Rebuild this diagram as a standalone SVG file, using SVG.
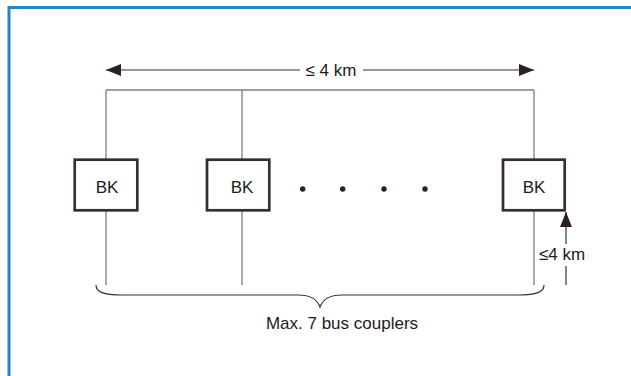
<svg xmlns="http://www.w3.org/2000/svg" width="631" height="376" viewBox="0 0 631 376">
  <style>
    .frame { fill: none; stroke: #1e87cf; stroke-width: 3; }
    .bus { fill: none; stroke: #857d7d; stroke-width: 1.3; }
    .dim { fill: none; stroke: #3a2f2f; stroke-width: 1.2; }
    .box { fill: #ffffff; stroke: #3a2d2d; stroke-width: 2.7; }
    .label { font-family: "Liberation Sans", Arial, sans-serif; font-size: 17px; fill: #231a1a; }
    .mid { text-anchor: middle; }
    .dot { fill: #2b1f1f; }
  </style>
  <defs>
    <marker id="head" viewBox="0 0 15 12" refX="15" refY="6" markerWidth="15" markerHeight="12" markerUnits="userSpaceOnUse" orient="auto">
      <path d="M0,0 L15,6 L0,12 Z" fill="#2b1f1f"/>
    </marker>
  </defs>

  <!-- page frame -->
  <path class="frame" d="M9,376 V7.5 H631"/>

  <!-- connectors: bus line, drops, dimensions, brace -->
  <g id="connectors">
    <path class="bus" d="M106,90 H534"/>
    <path class="bus" d="M106,90 V160 M242,90 V160 M534,90 V160"/>
    <path class="bus" d="M106,210 V285 M242,210 V285 M534,210 V285"/>

    <!-- overall length dimension -->
    <path class="dim" d="M300,70 H106" marker-end="url(#head)"/>
    <path class="dim" d="M363,70 H534" marker-end="url(#head)"/>

    <!-- stub length dimension -->
    <path class="dim" d="M566,244 V212" marker-end="url(#head)"/>
    <path class="dim" d="M566,266 V285"/>

    <!-- brace -->
    <path class="dim" d="M96,285 C96,292 103,295 122,295 L298,295 C311,295 317,299 320,307 C323,299 329,295 342,295 L518,295 C537,295 544,292 544,285"/>
  </g>

  <text class="label mid" x="331" y="76">≤ 4 km</text>
  <text class="label mid" x="562" y="260">≤4 km</text>
  <text class="label mid" x="342" y="329">Max. 7 bus couplers</text>

  <g id="bk1">
    <rect class="box" x="74.7" y="159.7" width="62.6" height="50.6"/>
    <text class="label mid" x="107" y="193">BK</text>
  </g>
  <g id="bk2">
    <rect class="box" x="207" y="159.7" width="62.3" height="50.6"/>
    <text class="label mid" x="242" y="193">BK</text>
  </g>
  <g id="bk3">
    <rect class="box" x="503" y="159.7" width="61.7" height="50.6"/>
    <text class="label mid" x="534" y="193">BK</text>
  </g>

  <g id="ellipsis">
    <circle class="dot" cx="302.7" cy="189" r="2.7"/>
    <circle class="dot" cx="342.7" cy="189" r="2.7"/>
    <circle class="dot" cx="384" cy="189" r="2.7"/>
    <circle class="dot" cx="425" cy="189" r="2.7"/>
  </g>
</svg>
